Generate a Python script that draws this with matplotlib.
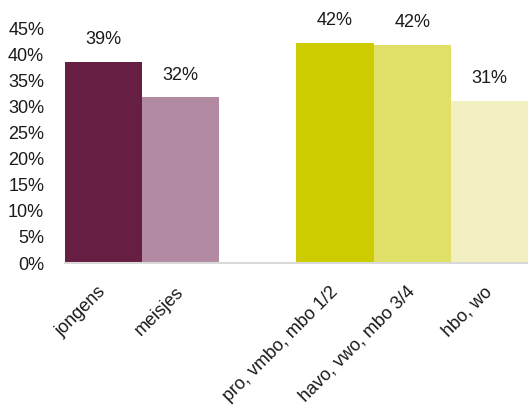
import matplotlib
matplotlib.use("Agg")
import matplotlib.pyplot as plt
from matplotlib.ticker import FuncFormatter

categories = ["jongens", "meisjes", "pro, vmbo, mbo 1/2", "havo, vwo, mbo 3/4", "hbo, wo"]
values = [38.5, 31.7, 42.2, 41.8, 31.1]
labels = ["39%", "32%", "42%", "42%", "31%"]
groups = [0, 0, 1, 1, 1]
colors = ["#661e43", "#b28ba2", "#cccc00", "#e0e068", "#f2f0c0"]
yticks = list(range(0, 50, 5))

plt.rcParams['font.family'] = ['Liberation Sans', 'DejaVu Sans']

fig = plt.figure(figsize=(5.28, 4.08), dpi=100)
ax = fig.add_axes([65/528, 1-263/408, 1-65/528, (263-28)/408])

# positions: one empty slot between groups
pos = []
p = 0
prev = groups[0]
for g in groups:
    if g != prev:
        p += 1
        prev = g
    pos.append(p)
    p += 1

ax.bar(pos, values, width=1.0, color=colors, zorder=2)
for x, v, t in zip(pos, values, labels):
    ax.annotate(t, (x, v), xytext=(0, 10), textcoords="offset points",
                ha="center", va="bottom", fontsize=13, color="#1a1a1a")

ax.set_xlim(-0.5, pos[-1] + 0.5)
ax.set_ylim(0, 45)
ax.set_yticks(yticks)
ax.yaxis.set_major_formatter(FuncFormatter(lambda v, _: f"{int(v)}%"))
ax.set_xticks(pos)
ax.set_xticklabels(categories, rotation=45, ha="right", va="center", rotation_mode="anchor")
ax.tick_params(axis="both", length=0, labelsize=13, colors="#1a1a1a")
ax.tick_params(axis="y", pad=15)
ax.tick_params(axis="x", pad=19)
for s in ["top", "right", "left"]:
    ax.spines[s].set_visible(False)
ax.spines["bottom"].set_color("#d9d9d9")
ax.spines["bottom"].set_linewidth(1.5)

fig.savefig("out.png", dpi=100)
